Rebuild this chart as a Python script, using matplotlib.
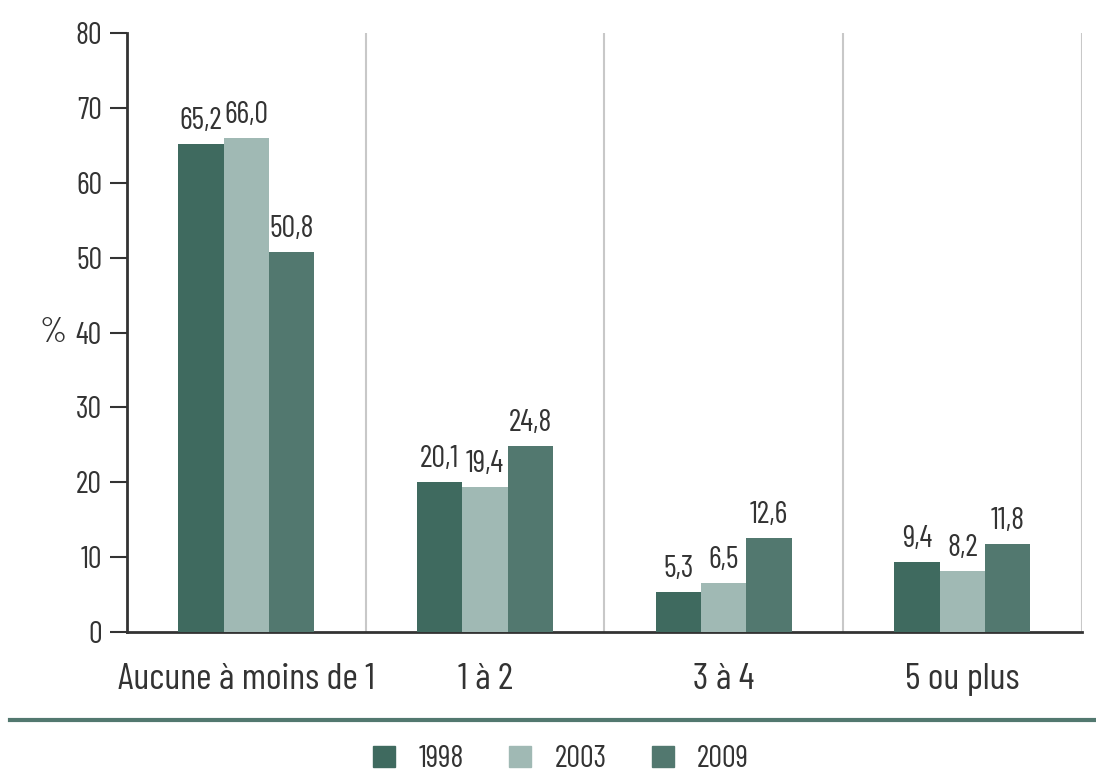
import matplotlib.pyplot as plt
import numpy as np

categories = ['Aucune à moins de 1', '1 à 2', '3 à 4', '5 ou plus']
years = ['1998', '2003', '2009']
v1998 = [65.2, 20.1, 5.3, 9.4]
v2003 = [66.0, 19.4, 6.5, 8.2]
v2009 = [50.8, 24.8, 12.6, 11.8]
colors = ['#3f6a5f', '#a0b9b4', '#52786f']

plt.rcParams['font.family'] = ['Barlow Condensed', 'DejaVu Sans']
txt = '#333333'

fig = plt.figure(figsize=(10.96, 7.73), dpi=100)
ax = fig.add_axes([0.1159, 0.1824, 0.871, 0.7749])

x = np.arange(len(categories))
w = 0.19
series = [v1998, v2003, v2009]
for i, vals in enumerate(series):
    pos = x + (i - 1) * w
    ax.bar(pos, vals, w, color=colors[i], label=years[i], zorder=3)
    for p, v in zip(pos, vals):
        ax.text(p, v + 1.2, f'{v:.1f}'.replace('.', ','), ha='center', va='bottom',
                fontsize=22, color=txt)

for sx in [0.5, 1.5, 2.5, 3.5]:
    ax.axvline(sx, color='#c8c8c8', lw=1.5, zorder=1)

ax.set_xlim(-0.5, 3.5)
ax.set_ylim(0, 80)
ax.set_yticks(range(0, 81, 10))
ax.set_xticks(x)
ax.set_xticklabels(categories)
ax.tick_params(axis='y', direction='out', length=12, width=1.5, color=txt, labelsize=22, labelcolor=txt, pad=6)
ax.tick_params(axis='x', length=0, labelsize=27, labelcolor=txt, pad=22)
for s in ['top', 'right']:
    ax.spines[s].set_visible(False)
ax.spines['left'].set_color(txt)
ax.spines['left'].set_linewidth(2)
ax.spines['bottom'].set_color(txt)
ax.spines['bottom'].set_linewidth(2)
ax.set_ylabel('%', rotation=0, fontsize=25, color=txt, va='center')
ax.yaxis.set_label_coords(-0.078, 0.5)

fig.add_artist(plt.Line2D([0.009, 1.0], [0.068, 0.068], transform=fig.transFigure,
                          color='#52786f', lw=3))

handles = [plt.Rectangle((0, 0), 1, 1, color=c) for c in colors]
fig.legend(handles, years, loc='center', bbox_to_anchor=(0.512, 0.018), ncol=3,
           frameon=False, fontsize=22, handlelength=0.72, handleheight=0.72,
           columnspacing=1.5, handletextpad=0.75, labelcolor=txt)

fig.savefig('out.png', dpi=100)
